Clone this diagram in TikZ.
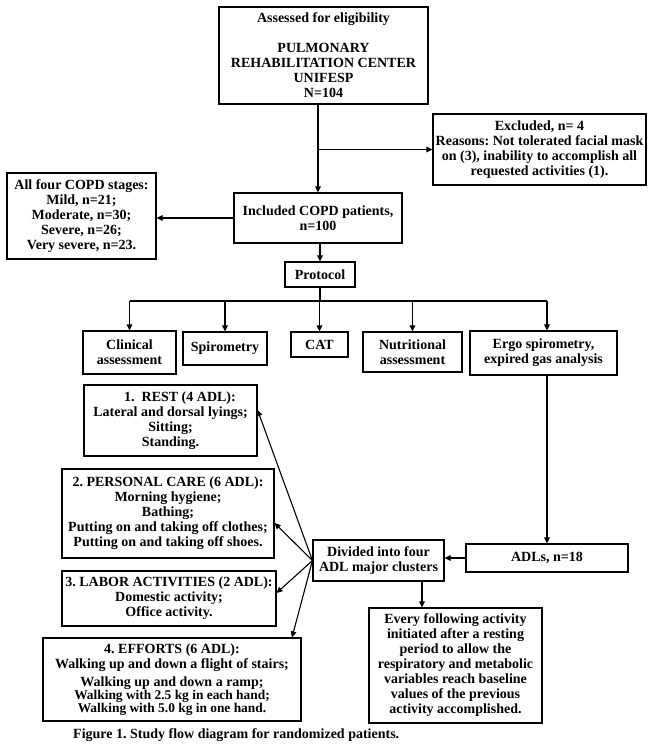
\documentclass[tikz,border=0pt]{standalone}
\usepackage{fontspec}
\setmainfont{Liberation Serif}
\frenchspacing
\usetikzlibrary{arrows.meta,calc}
\tikzset{
  box/.style={draw=black, line width=1.1pt, inner sep=0pt, align=center,
    font=\fontsize{14pt}{15pt}\selectfont\bfseries},
  arr/.style={line width=1.1pt, -{Triangle[width=5.5pt,length=6pt]}},
  ln/.style={line width=1.1pt},
}
\begin{document}
\begin{tikzpicture}[x=1pt,y=-1pt]
\useasboundingbox[fill=white] (0,0) rectangle (653,749);
% boxes
\node[box, minimum width=209pt, minimum height=97pt] (top) at (323.5,55.5)
  {Assessed for eligibility\\[15pt]PULMONARY\\REHABILITATION CENTER\\UNIFESP\\N=104};
\node[box, minimum width=213pt, minimum height=71pt] (excl) at (539.5,149.5)
  {Excluded, n= 4\\Reasons: Not tolerated facial mask\\on (3), inability to accomplish all\\requested activities (1).};
\node[box, minimum width=168pt, minimum height=50pt] (incl) at (318,218)
  {Included COPD patients,\\n=100};
\node[box, minimum width=149pt, minimum height=86pt] (stages) at (81.5,216)
  {All four COPD stages:\\Mild, n=21;\\Moderate, n=30;\\Severe, n=26;\\Very severe, n=23.};
\node[box, minimum width=70pt, minimum height=25pt] (prot) at (320,274.5) {Protocol};
\node[box, minimum width=93pt, minimum height=43pt] (clin) at (129.5,352.5) {Clinical\\assessment};
\node[box, minimum width=84pt, minimum height=33pt] (spiro) at (225,348.5) {Spirometry};
\node[box, minimum width=57pt, minimum height=25pt] (cat) at (319.5,344.5) {CAT};
\node[box, minimum width=99pt, minimum height=40pt] (nutri) at (412.5,352) {Nutritional\\assessment};
\node[box, minimum width=147pt, minimum height=44pt] (ergo) at (543.5,353) {Ergo spirometry,\\expired gas analysis};
\node[box, minimum width=173pt, minimum height=71pt] (rest) at (170.5,420.5)
  {\hspace*{19pt}1.\ \ REST (4 ADL):\\Lateral and dorsal lyings;\\Sitting;\\Standing.};
\node[box, minimum width=212pt, minimum height=89pt] (pcare) at (168,513.5)
  {2. PERSONAL CARE (6 ADL):\\Morning hygiene;\\Bathing;\\Putting on and taking off clothes;\\Putting on and taking off shoes.};
\node[box, minimum width=131pt, minimum height=41pt] (div) at (378.5,560.5)
  {Divided into four\\ADL major clusters};
\node[box, minimum width=162pt, minimum height=28pt] (adls) at (547,558) {ADLs, n=18};
\node[box, minimum width=214pt, minimum height=55pt] (labor) at (169,598.5)
  {3. LABOR ACTIVITIES (2 ADL):\\Domestic activity;\\Office activity.};
\node[box, minimum width=173pt, minimum height=115pt] (every) at (455.5,665.5)
  {Every following activity\\initiated after a resting\\period to allow the\\respiratory and metabolic\\variables reach baseline\\values of the previous\\activity accomplished.};
\node[box, minimum width=258pt, minimum height=83pt] (eff) at (172,679.5)
  {4. EFFORTS (6 ADL):\\Walking up and down a flight of stairs;\\[3pt]Walking up and down a ramp;\\[-2pt]{\fontsize{13.4pt}{12.5pt}\selectfont Walking with 2.5 kg in each hand;}\\[-2pt]{\fontsize{13.4pt}{12.5pt}\selectfont Walking with 5.0 kg in one hand.}};
\node[font=\fontsize{14pt}{15pt}\selectfont\bfseries, anchor=west, inner sep=0pt] (cap) at (73,735)
  {Figure 1. Study flow diagram for randomized patients.};
% connectors
\coordinate (bx) at (incl.north |- excl.west);
\draw[ln] (top.south -| incl.north) -- (bx);
\draw[arr] (bx) -- (incl.north);
\draw[arr] (bx) -- (excl.west);
\draw[arr] (incl.west) -- (incl.west -| stages.east);
\draw[arr] (incl.south -| prot.north) -- (prot.north);
\coordinate (bus) at (prot.south |- 0,301);
\draw[ln] (prot.south) -- (bus);
\draw[ln] (bus -| clin.north) -- (bus -| adls.north);
\draw[arr] (bus -| clin.north) -- (clin.north);
\draw[arr] (bus -| spiro.north) -- (spiro.north);
\draw[arr] (bus -| cat.north) -- (cat.north);
\draw[arr] (bus -| nutri.north) -- (nutri.north);
\draw[arr] (bus -| adls.north) -- (ergo.north -| adls.north);
\draw[arr] (ergo.south -| adls.north) -- (adls.north);
\draw[arr] (adls.west) -- (adls.west -| div.east);
\coordinate (dx) at (422,0);
\draw[arr] (div.south -| dx) -- (every.north -| dx);
\draw[arr] (div.west) -- (rest.east |- 0,410);
\draw[arr] (div.west) -- (pcare.east |- 0,523);
\draw[arr] (div.west) -- (labor.east |- 0,593);
\draw[arr] (div.west) -- (eff.north -| 292,0);
\end{tikzpicture}
\end{document}
